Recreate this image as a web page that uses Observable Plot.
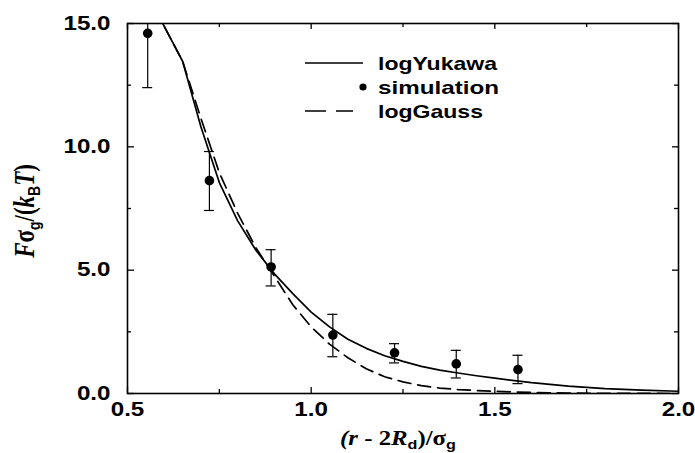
<!DOCTYPE html>
<html><head><meta charset="utf-8">
<script src="https://cdn.jsdelivr.net/npm/d3@7"></script>
<script src="https://cdn.jsdelivr.net/npm/@observablehq/plot@0.6"></script>
<style>body{margin:0;background:#fff} #chart svg{display:block}</style>
</head><body><div id="chart"></div>
<script>
// ---- data ----
const xMajor = [0.5, 1.0, 1.5, 2.0];
const xMinor = [0.75, 1.25, 1.75];
const yMajor = [0, 5, 10, 15];
const yMinor = [2.5, 7.5, 12.5];

const simX  = [0.555, 0.723, 0.891, 1.059, 1.227, 1.395, 1.563];
const simY  = [14.6, 8.63, 5.13, 2.37, 1.65, 1.2, 0.97];
const simLo = [12.4, 7.42, 4.36, 1.49, 1.24, 0.63, 0.4];
const simHi = [16.8, 9.81, 5.83, 3.21, 2.02, 1.75, 1.55];

const curveX = [0.55,0.65,0.70,0.75,0.80,0.85,0.90,0.95,1.00,1.05,1.10,1.15,1.20,1.25,1.30,1.35,1.40,1.45,1.50,1.60,1.70,1.80,1.90,2.00];
const yukawaY = [16.3,13.47,10.8,8.55,7.0,5.8,4.85,4.05,3.3,2.7,2.2,1.83,1.53,1.3,1.1,0.95,0.83,0.72,0.62,0.44,0.3,0.2,0.14,0.09];
const gaussY  = [16.3,13.47,11.15,8.95,7.3,5.9,4.75,3.6,2.7,2.0,1.45,1.0,0.68,0.47,0.32,0.22,0.16,0.12,0.09,0.04,0.015,0.005,0.002,0.0];

const legendLabels = ["logYukawa", "simulation", "logGauss"];

// ---- tables ----
const sim = simX.map((x, i) => ({x, y: simY[i], lo: simLo[i], hi: simHi[i]}));
const yuk = curveX.map((x, i) => ({x, y: yukawaY[i]}));
const gau = curveX.map((x, i) => ({x, y: gaussY[i]}));

const W = 695, H = 453, mL = 127, mR = 17, mT = 23, mB = 60;
const plotW = W - mL - mR, plotH = H - mT - mB;
const capHalf = 5 / (plotW / 1.5);
const SX = 1.24; // horizontal stretch of text, as in the reference

// inward ticks as short rules inset from the frame edges
const xTick = (vals, len, side) =>
  Plot.ruleX(vals, {x: d => d, stroke: "#000", strokeWidth: 1.3,
                    ...(side === "bottom" ? {insetTop: plotH - len} : {insetBottom: plotH - len})});
const yTick = (vals, len, side) =>
  Plot.ruleY(vals, {y: d => d, stroke: "#000", strokeWidth: 1.3,
                    ...(side === "left" ? {insetRight: plotW - len} : {insetLeft: plotW - len})});

const chart = Plot.plot({
  width: W, height: H,
  marginLeft: mL, marginRight: mR, marginTop: mT, marginBottom: mB,
  x: {domain: [0.5, 2.0]},
  y: {domain: [0, 15]},
  style: {fontFamily: "'Liberation Sans', Arial, sans-serif", fontWeight: "bold", fontSize: "19.5px", color: "#000", background: "#fff", overflow: "visible"},
  marks: [
    Plot.line(yuk, {x: "x", y: "y", stroke: "#000", strokeWidth: 1.7, clip: true}),
    Plot.line(gau, {x: "x", y: "y", stroke: "#000", strokeWidth: 1.7, strokeDasharray: "13,7", clip: true}),
    Plot.ruleX(sim, {x: "x", y1: "lo", y2: "hi", stroke: "#000", strokeWidth: 1.2, clip: true}),
    Plot.ruleY(sim, {y: "lo", x1: d => d.x - capHalf, x2: d => d.x + capHalf, stroke: "#000", strokeWidth: 1.2, clip: true}),
    Plot.ruleY(sim.filter(d => d.hi <= 15), {y: "hi", x1: d => d.x - capHalf, x2: d => d.x + capHalf, stroke: "#000", strokeWidth: 1.2, clip: true}),
    Plot.dot(sim, {x: "x", y: "y", r: 4.8, fill: "#000"}),
    // inward ticks on all four sides
    xTick(xMajor, 6, "bottom"), xTick(xMajor, 6, "top"),
    xTick(xMinor, 4, "bottom"), xTick(xMinor, 4, "top"),
    yTick(yMajor, 7, "left"), yTick(yMajor, 6, "right"),
    yTick(yMinor, 4, "left"), yTick(yMinor, 4, "right"),
    Plot.frame({stroke: "#000", strokeWidth: 1.6}),
    Plot.axisX(xMajor, {tickSize: 0, tickPadding: 9, tickFormat: d3.format(".1f"), label: null}),
    Plot.axisY(yMajor, {tickSize: 0, tickPadding: 17, tickFormat: d3.format(".1f"), label: null})
  ]
});

document.getElementById("chart").appendChild(chart);
const svg = d3.select(chart);

// stretch axis tick labels horizontally around their anchor
svg.selectAll("g[aria-label$='tick label'] text").each(function() {
  const t = this.getAttribute("transform") || "";
  this.setAttribute("transform", `${t} scale(${SX},1)`);
});

// ---- legend ----
const lg = svg.append("g").attr("aria-label", "legend").attr("text-anchor", "start");
lg.append("line").attr("x1", 305).attr("x2", 363).attr("y1", 63).attr("y2", 63)
  .attr("stroke", "#000").attr("stroke-width", 1.6);
lg.append("circle").attr("cx", 363).attr("cy", 87).attr("r", 3.6).attr("fill", "#000");
lg.append("line").attr("x1", 305).attr("x2", 353).attr("y1", 111).attr("y2", 111)
  .attr("stroke", "#000").attr("stroke-width", 1.6).attr("stroke-dasharray", "21,10");
const legY = [70, 94, 118];
const legW = [119, 121, 105];
legendLabels.forEach((s, i) => {
  lg.append("text").attr("x", 378).attr("y", legY[i]).attr("text-anchor", "start")
    .attr("font-family", "'Liberation Sans', Arial, sans-serif").attr("font-weight", "bold")
    .attr("font-size", 18.6).attr("fill", "#000")
    .attr("textLength", legW[i]).attr("lengthAdjust", "spacingAndGlyphs").text(s);
});

// ---- x axis title: (r - 2R_d)/σ_g ----
const serif = "'Liberation Serif', 'Times New Roman', serif";
const sans = "'Liberation Sans', Arial, sans-serif";
const xt = svg.append("text")
  .attr("transform", `translate(398,445) scale(${SX},1)`)
  .attr("text-anchor", "middle").attr("font-family", serif).attr("font-weight", "bold")
  .attr("font-size", 20).attr("fill", "#000");
xt.append("tspan").attr("font-style", "italic").text("(r");
xt.append("tspan").text(" - 2");
xt.append("tspan").attr("font-style", "italic").text("R");
xt.append("tspan").attr("font-family", sans).attr("font-size", 13).attr("dy", 4).text("d");
xt.append("tspan").attr("dy", -4).text(")/σ");
xt.append("tspan").attr("font-family", sans).attr("font-size", 13).attr("dy", 4).text("g");

// ---- y axis title: Fσ_g/(k_B T) ----
const yt = svg.append("text")
  .attr("transform", `translate(34,211) scale(${SX},1) rotate(-90)`)
  .attr("text-anchor", "middle").attr("font-family", serif).attr("font-weight", "bold")
  .attr("font-size", 23).attr("fill", "#000");
yt.append("tspan").attr("font-style", "italic").text("F");
yt.append("tspan").text("σ");
yt.append("tspan").attr("font-family", sans).attr("font-size", 14).attr("dy", 5).text("g");
yt.append("tspan").attr("dy", -5).text("/(");
yt.append("tspan").attr("font-style", "italic").text("k");
yt.append("tspan").attr("font-family", sans).attr("font-size", 14).attr("dy", 5).text("B");
yt.append("tspan").attr("dy", -5).attr("font-style", "italic").text("T");
yt.append("tspan").text(")");
</script>
</body></html>
